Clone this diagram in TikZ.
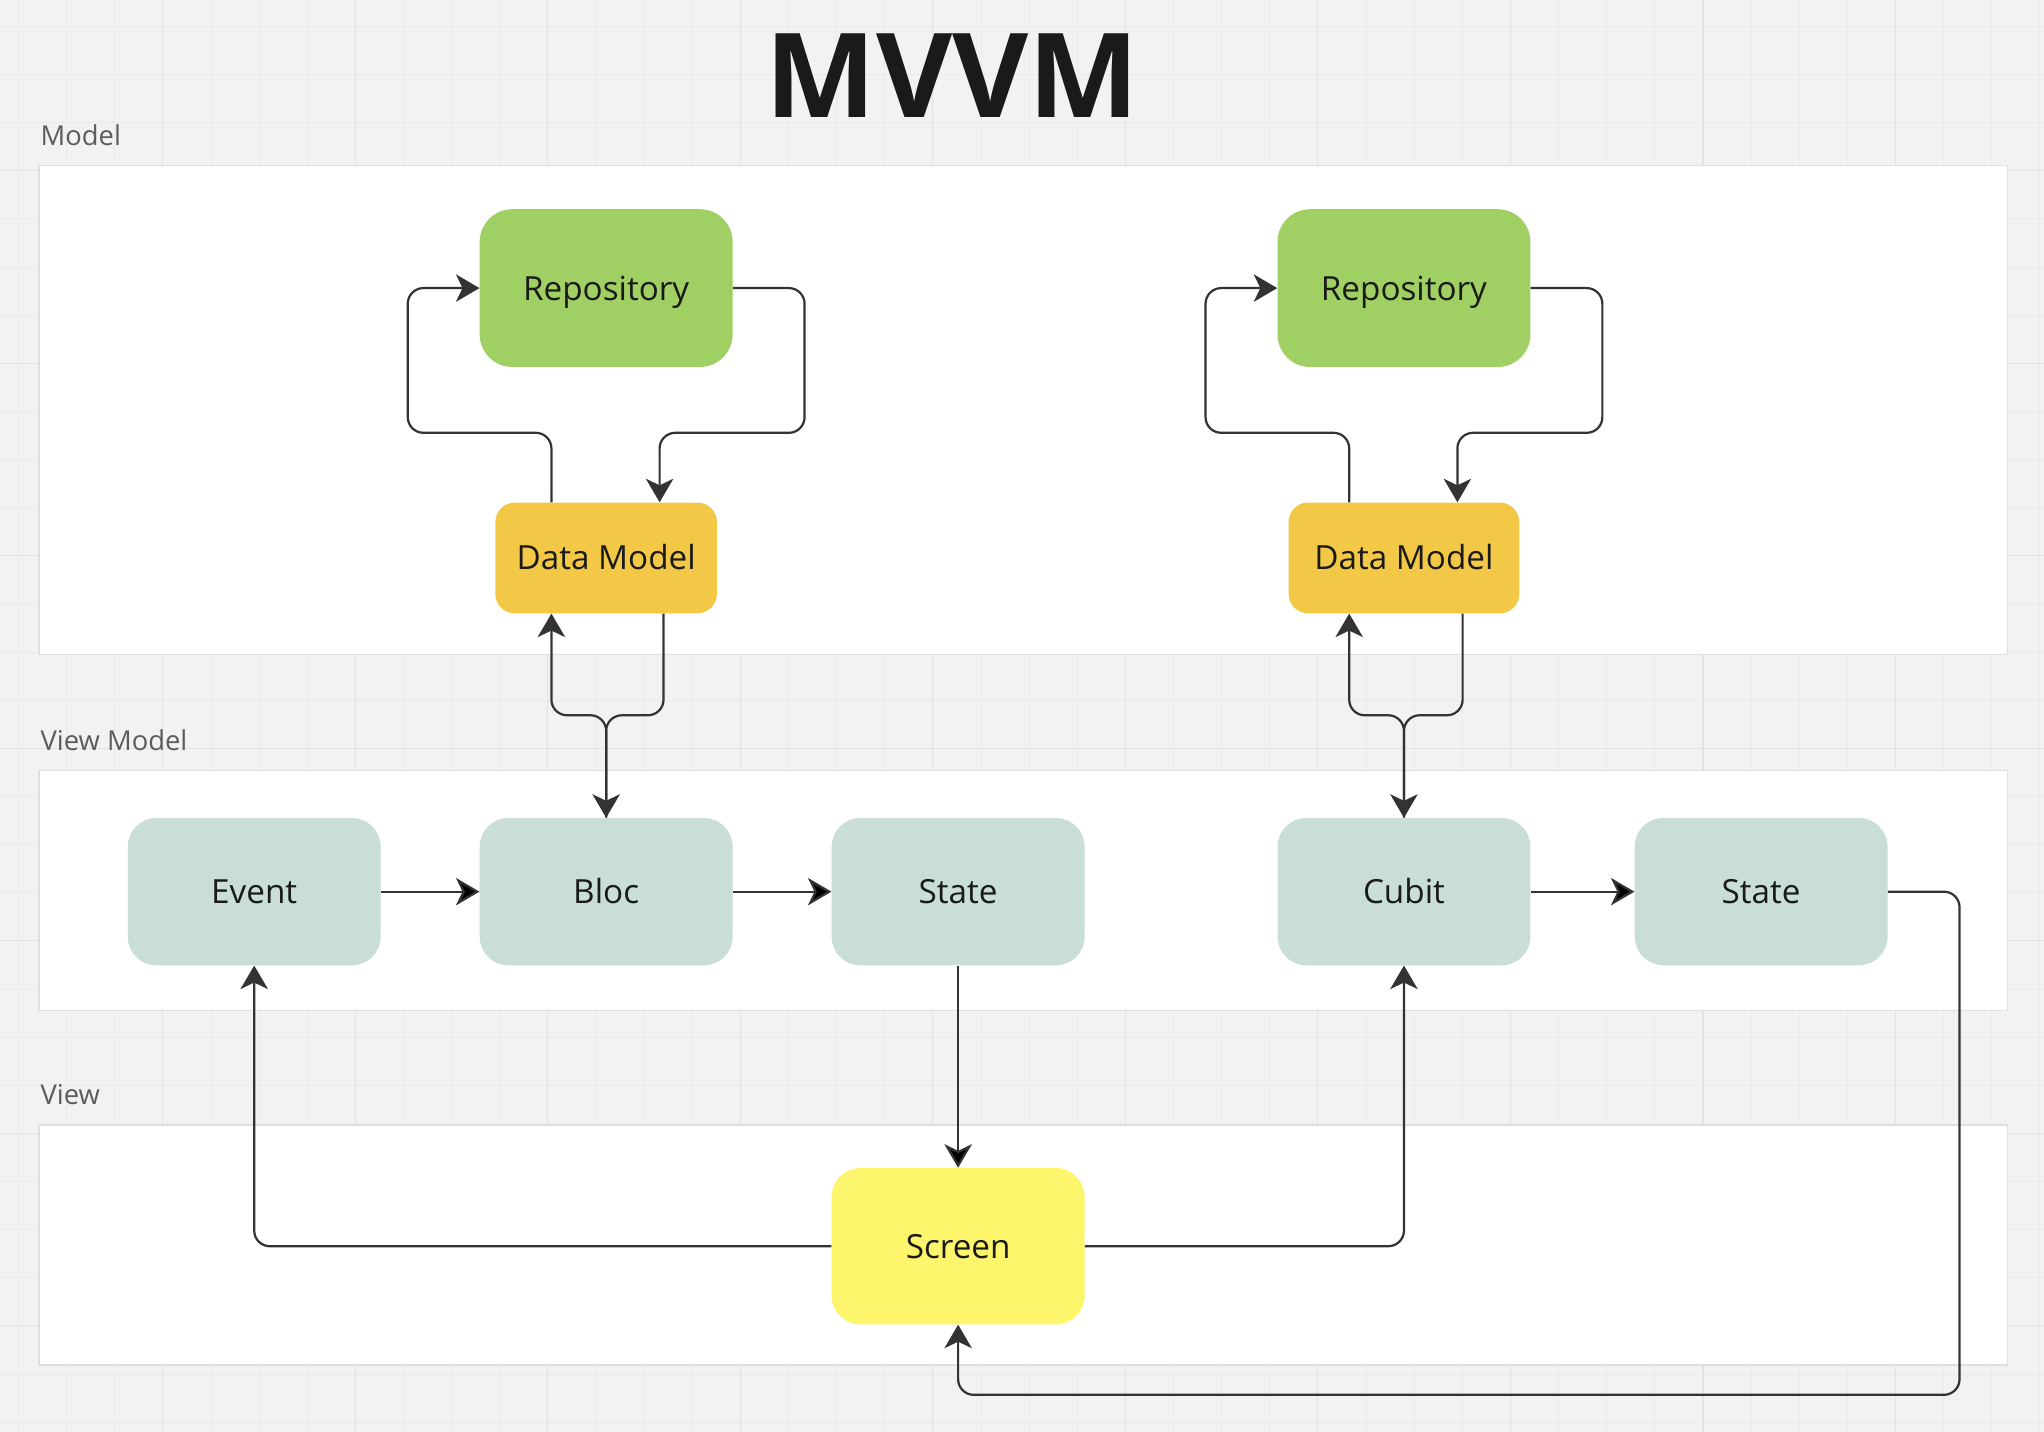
\documentclass[tikz,border=0pt]{standalone}
\usepackage{fontspec}
\setmainfont{Open Sans}
\usetikzlibrary{positioning,arrows.meta}
\definecolor{bg}{HTML}{F2F2F2}
\definecolor{gridminor}{HTML}{EAEAEA}
\definecolor{gridmajor}{HTML}{E2E2E2}
\definecolor{panelline}{HTML}{DFDFDF}
\definecolor{ink}{HTML}{1A1A1A}
\definecolor{labelgray}{HTML}{5C5C5C}
\definecolor{wire}{HTML}{333333}
\definecolor{repogreen}{HTML}{A0D063}
\definecolor{datayellow}{HTML}{F2C846}
\definecolor{vmgreen}{HTML}{C8DED7}
\definecolor{screenyellow}{HTML}{FDF56B}

\begin{document}
\begin{tikzpicture}[x=1pt,y=-1pt,node distance=270pt,on grid,
    box/.style={rounded corners=22pt,minimum width=194pt,minimum height=113pt,
        text height=18.5pt,text depth=0pt,text=ink,font=\fontsize{25.5}{30}\selectfont},
    repo/.style={box,fill=repogreen,minimum height=121pt,rounded corners=25pt},
    data/.style={box,fill=datayellow,minimum width=170pt,minimum height=85pt,rounded corners=15pt},
    vm/.style={box,fill=vmgreen},
    scr/.style={box,fill=screenyellow,minimum height=120pt},
    panel/.style={fill=white,draw=panelline,line width=1pt},
    lbl/.style={anchor=base west,inner sep=0pt,text=labelgray,font=\fontsize{21}{25}\selectfont},
    flow/.style={-{Stealth[length=18pt,width=21pt,inset=5pt]},line width=1.7pt,
        draw=wire,rounded corners=12pt,line join=round}]
    \useasboundingbox (0,0) rectangle (1568,1098.5);
    \fill[bg] (0,0) rectangle (1568,1098.5);
    \foreach \i in {0,...,42}
        \draw[gridminor,line width=0.6pt] ({14.1+36.92*\i},0) -- ++(0,1098.5);
    \foreach \j in {0,...,29}
        \draw[gridminor,line width=0.6pt] (0,{20.2+36.92*\j}) -- ++(1568,0);
    \foreach \i in {0,...,9}
        \draw[gridmajor,line width=0.9pt] ({124.9+147.68*\i},0) -- ++(0,1098.5);
    \foreach \j in {0,...,6}
        \draw[gridmajor,line width=0.9pt] (0,{131+147.68*\j}) -- ++(1568,0);

    \node[anchor=base,text=ink,font=\fontsize{90}{90}\bfseries\selectfont] (title) at (730.6,89.8) {MVVM};

    \draw[panel] (30,127) rectangle (1540,502);
    \draw[panel] (30,591) rectangle (1540,775);
    \draw[panel] (30,863) rectangle (1540,1047);
    \node[lbl] (modellab) at (31,111.5) {Model};
    \node[lbl] (vmlab)    at (31,575.5) {View Model};
    \node[lbl] (viewlab)  at (31,847.5) {View};

    \node[vm]   (bloc)   at (465,684)          {Bloc};
    \node[vm]   (event)  [left=of bloc]        {Event};
    \node[vm]   (stateL) [right=of bloc]       {State};
    \node[vm]   (cubit)  [right=612pt of bloc] {Cubit};
    \node[vm]   (stateR) [right=274pt of cubit]{State};
    \node[data] (dataL)  [above=256pt of bloc] {Data Model};
    \node[repo] (repoL)  [above=463pt of bloc] {Repository};
    \node[data,minimum width=177pt] (dataR) [above=256pt of cubit] {Data Model};
    \node[repo] (repoR)  [above=463pt of cubit]{Repository};
    \node[scr]  (screen) [below=272pt of stateL]{Screen};

    \draw[flow] ([xshift=-42pt]dataL.north) |- ([xshift=-55pt,yshift=-111pt]repoL.west) |- (repoL.west);
    \draw[flow] (repoL.east) -| ([xshift=55pt,yshift=-111pt]repoL.east) -| ([xshift=41pt]dataL.north);
    \draw[flow] ([xshift=-42pt]dataR.north) |- ([xshift=-55pt,yshift=-111pt]repoR.west) |- (repoR.west);
    \draw[flow] (repoR.east) -| ([xshift=55pt,yshift=-111pt]repoR.east) -| ([xshift=41pt]dataR.north);

    \draw[flow] (bloc.north) |- ([xshift=-42pt,yshift=-78pt]dataL.south) -- ([xshift=-42pt]dataL.south);
    \draw[flow] ([xshift=44pt]dataL.south) |- ([yshift=-78pt]dataL.south) -- (bloc.north);
    \draw[flow] (cubit.north) |- ([xshift=-42pt,yshift=-78pt]dataR.south) -- ([xshift=-42pt]dataR.south);
    \draw[flow] ([xshift=45pt]dataR.south) |- ([yshift=-78pt]dataR.south) -- (cubit.north);

    \path[flow] (event)  edge (bloc)
                (bloc)   edge (stateL)
                (cubit)  edge (stateR)
                (stateL) edge (screen);
    \draw[flow] (screen.west) -| (event.south);
    \draw[flow] (screen.east) -| (cubit.south);
    \draw[flow] (stateR.east) -| ([xshift=55pt,yshift=-386pt]stateR.east) -| (screen.south);
\end{tikzpicture}
\end{document}
